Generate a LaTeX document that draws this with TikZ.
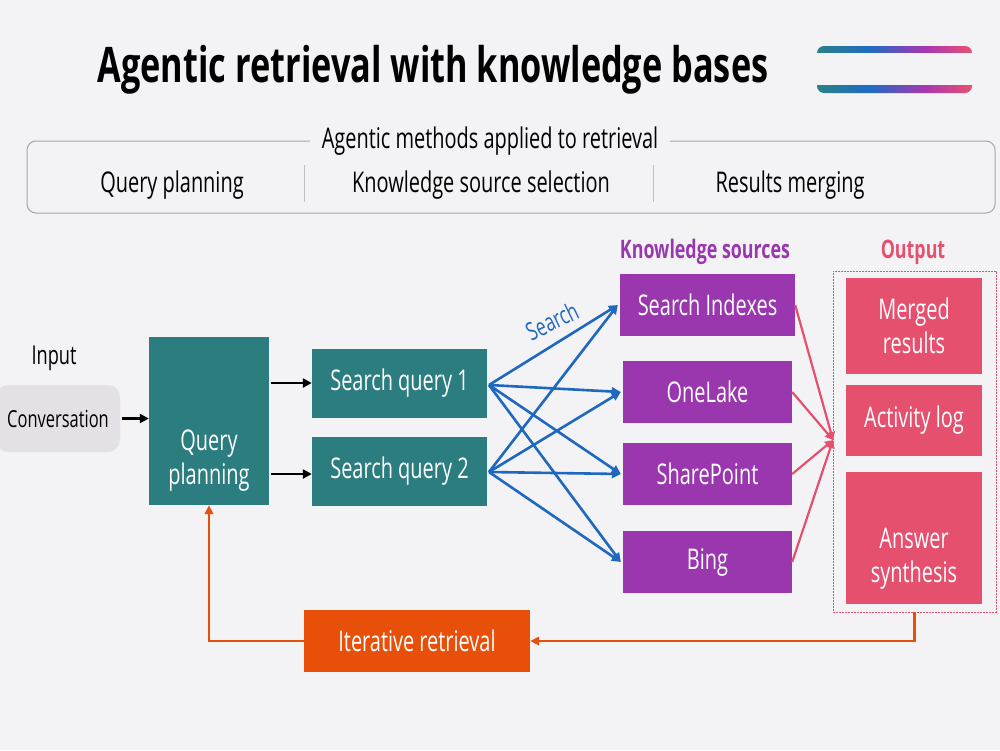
\documentclass[tikz,border=0pt]{standalone}
\usepackage{fontspec}
\setmainfont{Open Sans}[FakeStretch=0.7]
\usetikzlibrary{arrows.meta}
\definecolor{bg}{HTML}{F3F3F5}
\definecolor{tealbox}{HTML}{2B7D80}
\definecolor{purp}{HTML}{9A37AF}
\definecolor{pinkb}{HTML}{E5506F}
\definecolor{orng}{HTML}{E8500A}
\definecolor{blueln}{HTML}{1F68C0}
\definecolor{convfill}{HTML}{E3E1E6}
\definecolor{gA}{HTML}{2A8088}
\definecolor{gB}{HTML}{1E6CC4}
\definecolor{gC}{HTML}{A837B0}
\definecolor{gD}{HTML}{EA5070}
\pgfdeclarehorizontalshading{barshade}{100bp}{color(0bp)=(gA); color(25bp)=(gA); color(42bp)=(gB); color(60bp)=(gC); color(75bp)=(gD); color(100bp)=(gD)}
\tikzset{
  fs/.style={font=\fontsize{#1}{34}\selectfont},
  box/.style={draw=none, inner sep=2pt, align=center, text=white, fs=28.5},
  tealbx/.style={box, fill=tealbox},
  purpbx/.style={box, fill=purp},
  pinkbx/.style={box, fill=pinkb},
  blk/.style={line width=2.8pt, -{Triangle[length=9pt,width=9pt]}},
  blu/.style={blueln, line width=2.6pt, -{Triangle[length=9pt,width=8.5pt]}},
  pnk/.style={pinkb, line width=2.2pt, -{Triangle[length=8pt,width=8pt]}},
  org/.style={orng, line width=2.6pt, -{Triangle[length=9pt,width=8.5pt]}},
}
\begin{document}
\begin{tikzpicture}[x=1pt,y=-1pt]
\fill[bg] (0,0) rectangle (1000,750);
\useasboundingbox (0,0) rectangle (1000,750);
% title
\node[font=\bfseries\fontsize{49}{58}\selectfont, anchor=center] (title) at (433,70) {Agentic retrieval with knowledge bases};
% gradient bars
\shade[shading=barshade, rounded corners=7pt] (817,46) rectangle (972,93);
\fill[bg] (812,52.5) rectangle (978,85);
% top box
\draw[gray!70, line width=1pt, rounded corners=9pt] (27,141) rectangle (995,213);
\node[fill=bg, fs=28.5, inner xsep=12pt] (methods) at (490,141) {Agentic methods applied to retrieval};
\draw[gray!50, line width=1pt] (304,165) -- (304,202);
\draw[gray!50, line width=1pt] (653,165) -- (653,202);
\node[fs=28.5] (m1) at (172,185) {Query planning};
\node[fs=28.5] (m2) at (481,185) {Knowledge source selection};
\node[fs=28.5] (m3) at (790,185) {Results merging};
% input
\node[fs=26] (inputlbl) at (54,358) {Input};
\node[fill=convfill, rounded corners=12pt, minimum width=124pt, minimum height=67pt, fs=23.5, inner sep=0pt] (conv) at (58,418.5) {Conversation};
% query planning
\node[tealbx, minimum width=120pt, minimum height=168pt] (qp) at (209,421) {};
\node[box, fs=28.5] (qptext) at (209,461) {Query\\planning};
\node[tealbx, minimum width=175pt, minimum height=69pt] (sq1) at (399.5,383.5) {Search query 1};
\node[tealbx, minimum width=175pt, minimum height=69pt] (sq2) at (399.5,471.5) {Search query 2};
\coordinate (qpo1) at (271,383);
\coordinate (qpo2) at (271,474);
\draw[blk] ([xshift=2pt]conv.east) -- (qp.west |- conv.east);
\draw[blk] (qpo1) -- (sq1.west |- qpo1);
\draw[blk] (qpo2) -- (sq2.west |- qpo2);
% knowledge sources
\node[text=purp, font=\bfseries\fontsize{25.5}{30}\selectfont] (kslbl) at (705,252) {Knowledge sources};
\node[purpbx, minimum width=175pt, minimum height=62pt] (si) at (707.5,305) {Search Indexes};
\node[purpbx, minimum width=169pt, minimum height=62pt] (ol) at (707.5,392) {OneLake};
\node[purpbx, minimum width=169pt, minimum height=62pt] (sp) at (707.5,474) {SharePoint};
\node[purpbx, minimum width=169pt, minimum height=62pt] (bing) at (707.5,562) {Bing};
\coordinate (s1o) at (489,385);
\coordinate (s2o) at (489,472);
\foreach \t in {si,ol,sp,bing}{
  \draw[blu] (s1o) -- ([xshift=-2pt]\t.west);
  \draw[blu] (s2o) -- ([xshift=-2pt]\t.west);
}
\node[text=blueln, fs=25, rotate=26, inner sep=0pt] (searchlbl) at (552,321) {Search};
% output
\node[text=pinkb, font=\bfseries\fontsize{25.5}{30}\selectfont] (outlbl) at (913,252) {Output};
\node[draw=pinkb, dash pattern=on 2pt off 1pt, line width=0.8pt, minimum width=163pt, minimum height=341pt] (outbox) at (914.5,441.5) {};
\node[pinkbx, minimum width=136pt, minimum height=96pt] (merged) at (914,326) {\vphantom{Ay}Merged\\results};
\node[pinkbx, minimum width=136pt, minimum height=71pt] (actlog) at (914,420.5) {Activity log};
\node[pinkbx, minimum width=136pt, minimum height=132pt] (answer) at (914,538) {};
\node[box] (anstext) at (914,559) {Answer\\synthesis};
\coordinate (merge) at (833,440);
\foreach \t in {si,ol,sp,bing}{
  \draw[pnk] (\t.east) -- (merge);
}
% iterative
\node[box, fill=orng, minimum width=226pt, minimum height=62pt] (iter) at (417,641) {Iterative retrieval};
\draw[org] (outbox.south) |- (iter.east);
\draw[org] (iter.west) -| (qp.south);
\end{tikzpicture}
\end{document}
